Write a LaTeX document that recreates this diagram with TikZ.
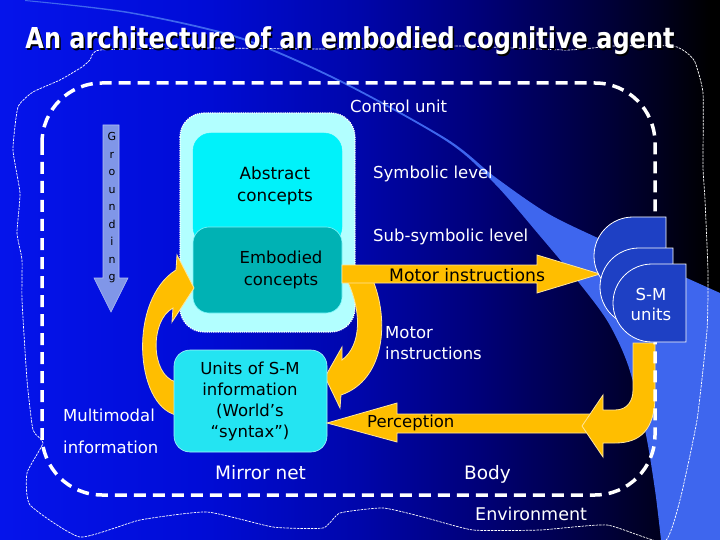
\documentclass[tikz,border=0pt]{standalone}
\usepackage{fontspec}
\setmainfont{DejaVu Sans}
\usepackage{graphicx}
\definecolor{bg0}{RGB}{5,20,235}
\definecolor{bg1}{RGB}{0,12,215}
\definecolor{bg2}{RGB}{0,6,170}
\definecolor{bg3}{RGB}{0,0,120}
\definecolor{bg4}{RGB}{0,0,70}
\definecolor{bg5}{RGB}{0,0,30}
\definecolor{swooshblue}{RGB}{62,102,238}
\definecolor{arrowyellow}{RGB}{255,190,0}
\definecolor{lightcy}{RGB}{178,255,255}
\definecolor{abscyan}{RGB}{0,242,250}
\definecolor{embteal}{RGB}{0,178,180}
\definecolor{unitcyan}{RGB}{36,228,242}
\definecolor{groundblue}{RGB}{128,150,232}
\definecolor{smblue}{RGB}{30,64,196}
\pgfdeclarehorizontalshading{bgshade}{100bp}{color(0bp)=(bg0); color(25bp)=(bg0); color(38.9bp)=(bg1); color(50bp)=(bg2); color(58.3bp)=(bg3); color(65.3bp)=(bg4); color(70.8bp)=(bg5); color(74.3bp)=(black); color(100bp)=(black)}
\begin{document}
\begin{tikzpicture}[x=1pt,y=-1pt,
  lbl/.style={text=white, inner sep=0pt, font=\fontsize{16.5}{21}\selectfont},
  blk/.style={text=black, inner sep=0pt, font=\fontsize{16.5}{21}\selectfont},
  yarrow/.style={fill=arrowyellow, draw=white!60!arrowyellow, line width=0.8pt, line join=miter},
  bodyline/.style={draw=white, line width=3.5pt, dash pattern=on 12pt off 7pt},
  envline/.style={draw=white, line width=0.7pt, dash pattern=on 2.5pt off 1pt},
  smunit/.style={fill=smblue, draw=white, line width=0.8pt},
  titlefont/.style={inner sep=0pt, font=\fontsize{24}{28}\selectfont\bfseries}
]
\useasboundingbox (0,0) rectangle (720,540);
\shade[shading=bgshade] (0,0) rectangle (720,540);

% swoosh
\fill[swooshblue] plot[smooth, tension=0.5] coordinates {(25,0) (130,12) (240,37) (340,80) (447,139) (495,177) (547,213) (600,239) (660,266) (720,293)}
  -- (720,540) -- (661,540)
  -- plot[smooth, tension=0.5] coordinates {(661,540) (655,490) (645,430) (628,365) (608,322) (580,284) (540,236) (495,184) (447,141.5) (340,82) (240,39) (130,13.5) (25,1)} -- cycle;

% environment boundary
\draw[envline] plot[smooth cycle, tension=0.3] coordinates {
 (100,50) (200,48) (330,49) (457,46) (567,50) (613,46) (673,46) (687,53) (695,62) (703,93)
 (703,167) (705,200) (708,273) (707,330) (697,420) (680,500) (664,542)
 (607,525) (540,530) (473,530) (423,517) (383,508) (340,513) (323,528) (273,527) (207,512) (140,520) (80,537)
 (30,505) (27,473) (43,443) (33,430) (27,380) (22,300) (22,260) (17,233) (20,193) (13,150) (18,107) (33,92) (60,80) (82,67) (90,60)};

% title
\node[titlefont, text=black, anchor=base] at (351.5,50.5) {\scalebox{1}[1.2]{An architecture of an embodied cognitive agent}};
\node[titlefont, text=white, anchor=base] (title) at (350,49) {\scalebox{1}[1.2]{An architecture of an embodied cognitive agent}};

% labels
\node[lbl, anchor=west] (control) at (350,106) {Control unit};
\node[lbl, anchor=west] (symb) at (373,174) {Symbolic level};
\node[lbl, anchor=west] (subsymb) at (373,237) {Sub-symbolic level};
\node[lbl, anchor=west, align=left] (motor2) at (385,343) {Motor\\instructions};
\node[lbl, anchor=west, align=left, font=\fontsize{16.5}{32}\selectfont] (multi) at (63,431) {Multimodal\\information};
\node[lbl, anchor=west, font=\fontsize{18.5}{22}\selectfont] (mirror) at (215,473) {Mirror net};
\node[lbl, anchor=west, font=\fontsize{18.5}{22}\selectfont] (body) at (464,474) {Body};
\node[lbl, anchor=west, font=\fontsize{17.5}{22}\selectfont] (env) at (475,514) {Environment};

% grounding arrow
\draw[fill=groundblue, draw=groundblue!60!white, line width=0.6pt] (103,125) -- (119,125) -- (119,278) -- (128,278) -- (111,312) -- (94,278) -- (103,278) -- cycle;
\node[text=black, inner sep=0pt, align=center, font=\fontsize{11}{17.5}\selectfont] (grounding) at (112,208) {G\\r\\o\\u\\n\\d\\i\\n\\g};

% brain boxes
\draw[fill=lightcy, draw=white, densely dotted, line width=1.2pt, rounded corners=24pt] (180,113) rectangle (355,332);
\draw[fill=abscyan, draw=abscyan, rounded corners=18pt] (193,133) rectangle (342,245);
\draw[fill=embteal, draw=white!50!abscyan, line width=0.6pt, rounded corners=16pt] (193,227) rectangle (342,313);
\node[blk, align=center, font=\fontsize{16.8}{22}\selectfont] (abs) at (275,186) {Abstract\\concepts};
\node[blk, align=center, font=\fontsize{16.5}{22}\selectfont] (emb) at (281,270) {Embodied\\concepts};

% left curved arrow
\draw[yarrow] (176,415) .. controls (135,405) and (128,300) .. (176,270) -- (177,255) -- (194,288) -- (172,322) -- (173,308) .. controls (150,320) and (150,375) .. (176,382) -- cycle;
% right curved arrow
\draw[yarrow] (346,278) -- (372,278) .. controls (390,320) and (385,380) .. (341,395) -- (340,408) -- (325,377) -- (342,347) -- (342,360) .. controls (362,345) and (362,310) .. (346,278) -- cycle;
% motor instructions arrow
\draw[yarrow] (342,265) -- (537,265) -- (537,255) -- (600,274) -- (537,293) -- (537,283) -- (342,283) -- cycle;
\node[blk, anchor=west, font=\fontsize{17.2}{21}\selectfont] (motor1) at (389,275) {Motor instructions};

% units box
\draw[fill=unitcyan, draw=white!60!unitcyan, line width=0.6pt, rounded corners=16pt] (174,350) rectangle (327,452);
\node[blk, align=center, font=\fontsize{16.5}{21}\selectfont] (units) at (250,401) {Units of S-M\\information\\(World’s\\“syntax”)};

% perception arrow
\draw[yarrow] (397,414) -- (600,414) -- (600,433) -- (397,433) -- (397,442) -- (327,423) -- (397,403) -- cycle;
\node[blk, anchor=west] (perc) at (367,423) {Perception};
% J arrow from S-M units
\draw[yarrow] (633,343) -- (655,343) -- (655,395) .. controls (655,430) and (640,443) .. (615,443) -- (603,443) -- (603,457) -- (582,426) -- (603,395) -- (603,410) -- (615,410) .. controls (628,410) and (633,400) .. (633,390) -- cycle;

% body boundary
\draw[bodyline, rounded corners=60pt] (42,83) rectangle (655,495);

% S-M units
\draw[smunit] (666,217) -- (666,295) -- (633,295) arc[start angle=90, end angle=270, radius=39] -- cycle;
\draw[smunit] (673,248) -- (673,326) -- (639,326) arc[start angle=90, end angle=270, radius=39] -- cycle;
\draw[smunit] (686,264) -- (686,342) -- (652,342) arc[start angle=90, end angle=270, radius=39] -- cycle;
\node[lbl, align=center, font=\fontsize{16.5}{20}\selectfont] (smunits) at (651,304) {S-M\\units};
\end{tikzpicture}
\end{document}
